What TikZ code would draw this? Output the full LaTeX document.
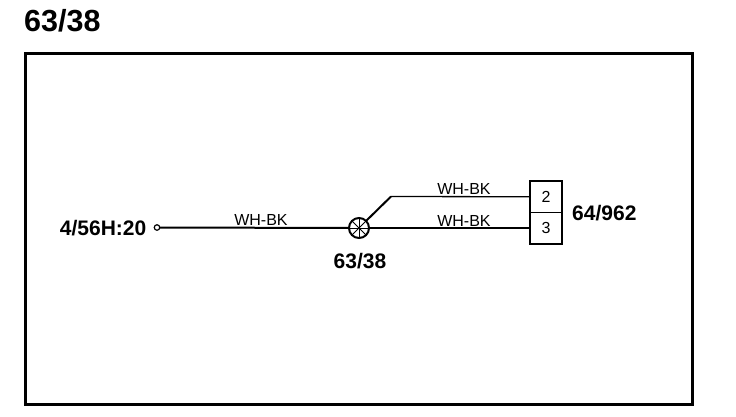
\documentclass[tikz,border=0pt]{standalone}
\usepackage{fontspec}
\setmainfont{Liberation Sans}
\tikzset{
  wire/.style={line width=2bp,line cap=butt},
  branch/.style={line width=1.3bp,line cap=butt},
  wirelabel/.style={font=\fontsize{16bp}{16bp}\selectfont,inner sep=0pt,anchor=base},
  bigl/.style={font=\bfseries\fontsize{21bp}{21bp}\selectfont,inner sep=0pt,anchor=base},
  pinbox/.style={draw,line width=1.2bp,minimum width=32bp,minimum height=31.5bp,inner sep=0pt,outer sep=0pt,font=\fontsize{16bp}{16bp}\selectfont},
  splice/.style={circle,draw,line width=2bp,minimum size=20bp,inner sep=0pt,outer sep=0pt},
  term/.style={circle,draw,line width=1.2bp,minimum size=5.5bp,inner sep=0pt,outer sep=0pt}
}
\begin{document}
\begin{tikzpicture}[x=1bp,y=-1bp]
\useasboundingbox (0,0) rectangle (736,416);
\fill[white] (0,0) rectangle (736,416);
\node[font=\bfseries\fontsize{30.5bp}{30.5bp}\selectfont,inner sep=0pt,anchor=base west] (title) at (24,31.5) {63/38};
\draw[line width=2.8bp] (25.5,53.5) rectangle (692.5,404.5);
\node[term] (t) at (157,227.5) {};
\node[splice] (j) at (359,228) {};
\foreach \a in {0,45,90,135} \draw[line width=1bp] (j.\a) -- (j.\the\numexpr\a+180\relax);
\node[pinbox] (p2) at (546,196.75) {2};
\node[pinbox] (p3) at (546,228.25) {3};
\coordinate (bend) at (391,196.5);
\draw[wire] (t) -- (j);
\draw[wire] (j) -- (j -| p3.west);
\draw[wire] (j.45) -- (bend);
\draw[branch] (bend) -- (p2.west);
\node[wirelabel] (l1) at (261,225.5) {WH-BK};
\node[wirelabel] (l2) at (464,194.5) {WH-BK};
\node[wirelabel] (l3) at (464,226) {WH-BK};
\node[bigl,anchor=base east] (ln) at (146.5,235) {4/56H:20};
\node[bigl] (lj) at (360,268.5) {63/38};
\node[bigl,anchor=base west] (lc) at (572,220.5) {64/962};
\end{tikzpicture}
\end{document}
